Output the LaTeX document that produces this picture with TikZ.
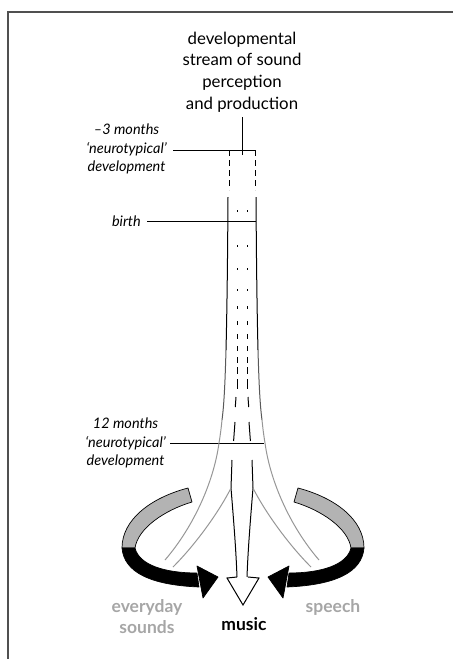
\documentclass[tikz,border=0pt]{standalone}
\usepackage{fontspec}
\setmainfont{Lato}
\definecolor{txtgray}{RGB}{166,166,166}
\definecolor{bandgray}{RGB}{179,179,179}
\definecolor{linegray}{RGB}{150,150,150}
\definecolor{framec}{RGB}{80,80,80}
\tikzset{
  titletext/.style={align=center,inner sep=0pt,font=\fontsize{16.8}{21.7}\selectfont},
  lab/.style={align=center,inner sep=0pt,font=\fontsize{14.5}{18.5}\selectfont\itshape},
  outlab/.style={align=center,inner sep=0pt,font=\fontsize{17.5}{21}\selectfont\bfseries},
  wall/.style={line width=1pt},
  dsh/.style={line width=1pt},
  band/.style={draw=black,line width=0.7pt,line join=round},
}
\begin{document}
\begin{tikzpicture}[x=1pt,y=-1pt]
\useasboundingbox (0,0) rectangle (453,659);
% frame
\draw[framec,line width=1.5pt] (8,659) -- (8,12) -- (453,12);

% title
\node[titletext] (title) at (242,72) {developmental\\stream of sound\\perception\\and production};
\coordinate (stemtop) at (242,155);
\draw[line width=1pt] ([yshift=-5pt]title.south) -- (stemtop);

% left labels
\node[lab,anchor=east] (m3) at (167,149) {\textendash3 months\\‘neurotypical’\\development};
\node[lab,anchor=east] (birth) at (141,221) {birth};
\node[lab,anchor=east] (m12) at (166,443) {12 months\\‘neurotypical’\\development};
\coordinate (capR) at (255,150);
\coordinate (birthR) at (256,221);
\coordinate (m12R) at (264,443);
\draw[line width=1pt] ([xshift=6pt]m3.east |- capR) -- (capR);
\draw[line width=1pt] ([xshift=6pt]birth.east |- birthR) -- (birthR);
\draw[line width=1pt] ([xshift=4pt]m12.east |- m12R) -- (m12R);

% one half of the stream (left), mirrored for the right
\foreach \s/\sh in {1/0,-1/484}{
\begin{scope}[xshift=\sh pt,xscale=\s]
  % dashed walls before birth
  \draw[wall,dash pattern=on 6pt off 4pt] (229,150) -- (229,190);
  % solid walls
  \draw[wall] (228,197) .. controls (227.6,260) and (227,310) .. (226,350);
  \draw[wall,black!65] (226,350) .. controls (225,385) and (224,405) .. (222,420);
  \draw[wall,linegray] (222,420) .. controls (221,430) and (220,437) .. (219,443)
        .. controls (214,480) and (195,525) .. (165,560);
  % inner dotted / dashed stream
  \foreach \ya/\yb in {210/212,245/247,268/270,289/291,306/309,321/325,334/339,346/351,357/363,367/374,379/389}
    \draw[dsh] (237,\ya) -- (237,\yb);
  \draw[dsh] (236,397) -- (235.3,407);
  \draw[dsh] (235,422) -- (233.6,441);
  % inner continuous lines
  \draw[wall] (232,460) -- (231,488) .. controls (234,525) and (236,550) .. (237,577);
  \draw[wall,linegray] (231,488) .. controls (220,510) and (197,543) .. (173,567);
\end{scope}
}

% music arrow head
\draw[line width=1pt,fill=white,line join=miter] (237,577) -- (227,578) -- (243,605) -- (259,578) -- (248,577);

% curved arrows
\foreach \s/\sh in {1/0,-1/486}{
\begin{scope}[xshift=\sh pt,xscale=\s]
  \path[band,fill=bandgray] (188,488) -- (192,502) .. controls (165,510) and (138,528) .. (135,548)
        -- (122,548) .. controls (122,520) and (150,498) .. cycle;
  \path[band,fill=black] (122,548) .. controls (124,572) and (150,585) .. (199,587)
        -- (197,573) .. controls (165,573) and (139,565) .. (135,548) -- cycle;
  \path[band,fill=black] (197,566) -- (218,577) -- (203,598) -- cycle;
\end{scope}
}

% bottom labels
\node[outlab,text=txtgray] (everyday) at (147,617) {everyday\\sounds};
\node[outlab] (music) at (244,624) {music};
\node[outlab,text=txtgray] (speech) at (333,607) {speech};
\end{tikzpicture}
\end{document}
